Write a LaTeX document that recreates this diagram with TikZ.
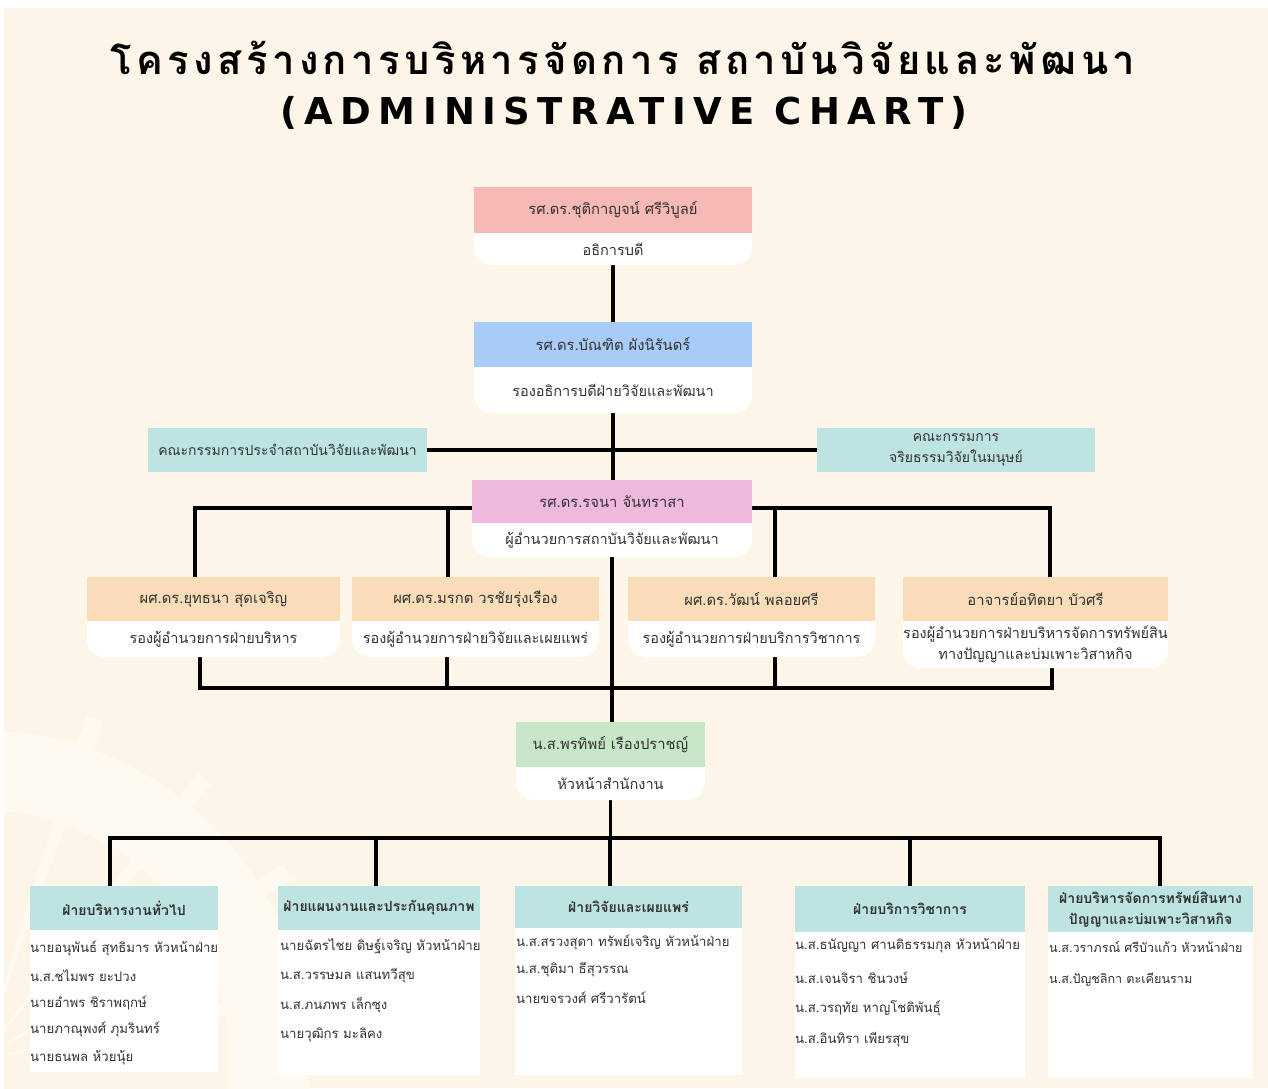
\documentclass[tikz,border=0pt]{standalone}
\usepackage{fontspec}
\setmainfont[Script=Thai]{Loma}
\newfontfamily\titlethai[Script=Thai,LetterSpace=11]{Loma}
\newfontfamily\titleen[LetterSpace=20]{DejaVu Sans}
\usetikzlibrary{calc,backgrounds}
\definecolor{bg}{HTML}{FDF5E7}
\definecolor{bglight}{HTML}{FEF9F1}
\definecolor{hpink}{HTML}{F7B9B5}
\definecolor{hblue}{HTML}{A8CBF8}
\definecolor{hviolet}{HTML}{EEB9DD}
\definecolor{hpeach}{HTML}{F8DDB8}
\definecolor{hgreen}{HTML}{C8E6C8}
\definecolor{hcyan}{HTML}{BEE3E3}
\definecolor{txt}{HTML}{333333}
\tikzset{
  conn/.style={line width=3.3pt, black},
  bodybox/.style={fill=white, draw=none, rounded corners=18pt, inner sep=0pt, outer sep=0pt},
  colbody/.style={fill=white, draw=none, inner sep=0pt, outer sep=0pt},
  headbox/.style={draw=none, inner sep=0pt, outer sep=0pt, text=txt, font=\fontsize{14.8}{18}\selectfont},
  roletxt/.style={inner sep=0pt, text=txt, align=center, font=\fontsize{14.5}{21}\selectfont},
  combox/.style={fill=hcyan, draw=none, inner sep=0pt, outer sep=0pt, text=txt, align=center, font=\fontsize{14}{21}\selectfont},
  colhead/.style={fill=hcyan, draw=none, inner sep=0pt, outer sep=0pt, text=txt, align=center, font=\bfseries\fontsize{14}{21}\selectfont},
  listtxt/.style={anchor=west, inner sep=0pt, text=txt, font=\fontsize{13.2}{18}\selectfont}
}
% #1 name, #2 xl, #3 xr, #4 ytop, #5 ysplit, #6 ybottom, #7 colour, #8 name text, #9 role text
\newcommand\card[9]{%
  \node[bodybox, minimum width={(#3-#2)*1pt}, minimum height={(#6-#4)*1pt}] (#1b) at ({(#2+#3)/2},{(#4+#6)/2}) {};
  \node[headbox, fill=#7, minimum width={(#3-#2)*1pt}, minimum height={(#5-#4)*1pt}] (#1) at ({(#2+#3)/2},{(#4+#5)/2}) {#8};
  \node[roletxt] (#1r) at ({(#2+#3)/2},{(#5+#6)/2}) {#9};}
% #1 name, #2 xl, #3 xr, #4 ytop, #5 ysplit, #6 ybottom, #7 header text
\newcommand\colcard[7]{%
  \node[colbody, minimum width={(#3-#2)*1pt}, minimum height={(#6-#4)*1pt}] (#1b) at ({(#2+#3)/2},{(#4+#6)/2}) {};
  \node[colhead, minimum width={(#3-#2)*1pt}, minimum height={(#5-#4)*1pt}] (#1) at ({(#2+#3)/2},{(#4+#5)/2}) {#7};}
\begin{document}
\begin{tikzpicture}[x=1pt,y=-1pt]
\useasboundingbox (0,0) rectangle (1268,1088);
\begin{scope}[on background layer]
  \fill[white] (0,0) rectangle (1268,1088);
  \fill[bg] (4,8) rectangle (1268,1088);
  \begin{scope}
    \clip (4,8) rectangle (1268,1088);
    \fill[bglight] (-20,1060) circle (330pt);
    \fill[bg] (-20,1060) circle (250pt);
    \foreach \a in {10,30,50,70} {
      \fill[bglight] (-20,1060) -- ++(\a:360pt) -- ++(\a+90:18pt) -- cycle;
    }
  \end{scope}
\end{scope}

% title
\node[font=\titlethai\bfseries\fontsize{40}{48}\selectfont] (title1) at (623,58) {โครงสร้างการบริหารจัดการ สถาบันวิจัยและพัฒนา};
\node[font=\titleen\bfseries\fontsize{37}{44}\selectfont] (title2) at (624,113) {(ADMINISTRATIVE CHART)};

% top cards
\card{pres}{474}{752}{187}{233}{265}{hpink}{รศ.ดร.ชุติกาญจน์ ศรีวิบูลย์}{อธิการบดี}
\card{vp}{474}{752}{322}{367}{413}{hblue}{รศ.ดร.บัณฑิต ผังนิรันดร์}{รองอธิการบดีฝ่ายวิจัยและพัฒนา}
\card{dir}{472}{752}{480}{523}{557}{hviolet}{รศ.ดร.รจนา จันทราสา}{ผู้อำนวยการสถาบันวิจัยและพัฒนา}

% committees
\node[combox, minimum width=279pt, minimum height=44pt] (comL) at (287.5,450) {คณะกรรมการประจำสถาบันวิจัยและพัฒนา};
\node[combox, minimum width=278pt, minimum height=44pt] (comR) at (956,450) {คณะกรรมการ\\จริยธรรมวิจัยในมนุษย์};

% deputies
\card{da}{87}{340}{577}{621}{657}{hpeach}{ผศ.ดร.ยุทธนา สุดเจริญ}{รองผู้อำนวยการฝ่ายบริหาร}
\card{db}{352}{599}{577}{621}{657}{hpeach}{ผศ.ดร.มรกต วรชัยรุ่งเรือง}{รองผู้อำนวยการฝ่ายวิจัยและเผยแพร่}
\card{dc}{628}{875}{577}{621}{657}{hpeach}{ผศ.ดร.วัฒน์ พลอยศรี}{รองผู้อำนวยการฝ่ายบริการวิชาการ}
\card{dd}{903}{1168}{577}{621}{668}{hpeach}{อาจารย์อทิตยา บัวศรี}{รองผู้อำนวยการฝ่ายบริหารจัดการทรัพย์สิน\\ทางปัญญาและบ่มเพาะวิสาหกิจ}

% office head
\card{off}{516}{705}{722}{767}{800}{hgreen}{น.ส.พรทิพย์ เรืองปราชญ์}{หัวหน้าสำนักงาน}

% divisions
\colcard{ka}{30}{218}{886}{930}{1072}{ฝ่ายบริหารงานทั่วไป}
\colcard{kb}{278}{480}{886}{930}{1075}{ฝ่ายแผนงานและประกันคุณภาพ}
\colcard{kc}{515}{742}{886}{928}{1075}{ฝ่ายวิจัยและเผยแพร่}
\colcard{kd}{795}{1025}{886}{932}{1078}{ฝ่ายบริการวิชาการ}
\colcard{ke}{1048}{1253}{886}{932}{1078}{ฝ่ายบริหารจัดการทรัพย์สินทาง\\ปัญญาและบ่มเพาะวิสาหกิจ}

\foreach \t [count=\i] in {นายอนุพันธ์ สุทธิมาร หัวหน้าฝ่าย, น.ส.ชไมพร ยะปวง, นายอำพร ชิราพฤกษ์, นายภาณุพงศ์ ภุมรินทร์, นายธนพล ห้วยนุ้ย}
  \node[listtxt] (la\i) at (30,{948+27.3*(\i-1)}) {\t};
\foreach \t [count=\i] in {นายฉัตรไชย ดิษฐ์เจริญ หัวหน้าฝ่าย, น.ส.วรรษมล แสนทวีสุข, น.ส.ภนภพร เล็กซุง, นายวุฒิกร มะลิคง}
  \node[listtxt] (lb\i) at (280,{946+29.5*(\i-1)}) {\t};
\foreach \t [count=\i] in {น.ส.สรวงสุดา ทรัพย์เจริญ หัวหน้าฝ่าย, น.ส.ชุติมา ธีสุวรรณ, นายขจรวงศ์ ศรีวารัตน์}
  \node[listtxt] (lc\i) at (516,{942+28*(\i-1)}) {\t};
\foreach \t [count=\i] in {น.ส.ธนัญญา ศานติธรรมกุล หัวหน้าฝ่าย, น.ส.เจนจิรา ชินวงษ์, น.ส.วรฤทัย หาญโชติพันธุ์, น.ส.อินทิรา เพียรสุข}
  \node[listtxt] (ld\i) at (795,{946+31.3*(\i-1)}) {\t};
\foreach \t [count=\i] in {น.ส.วราภรณ์ ศรีบัวแก้ว หัวหน้าฝ่าย, น.ส.ปัญชลิกา ตะเคียนราม}
  \node[listtxt, font=\fontsize{12.6}{18}\selectfont] (le\i) at (1049,{947+33*(\i-1)}) {\t};

% connectors
\begin{scope}[on background layer]
  \draw[conn] (presb.south) -- (vp.north);
  \draw[conn] (vpb.south) -- (vpb.south |- dir.north);
  \draw[conn] (comL.east) -- (comR.west);
  \draw[conn] ([xshift=-18.5pt]da.north) -- ++(0,-69) -| ([xshift=14.5pt]dd.north);
  \draw[conn] ([xshift=-27.5pt]db.north) -- ++(0,-69);
  \draw[conn] ([xshift=23.5pt]dc.north) -- ++(0,-69);
  \draw[conn] ([xshift=-13.5pt]dab.south) -- ++(0,31) -| ([xshift=16.5pt]ddb.south);
  \draw[conn] ([xshift=-28.5pt]dbb.south) -- ++(0,31);
  \draw[conn] ([xshift=23.5pt]dcb.south) -- ++(0,31);
  \draw[conn] (dirb.south) -- (dirb.south |- off.north);
  \draw[conn] (offb.south) -- ++(0,38);
  \draw[conn] ([xshift=-14pt]ka.north) -- ++(0,-48) -| ([xshift=9.5pt]ke.north);
  \draw[conn] ([xshift=-3pt]kb.north) -- ++(0,-48);
  \draw[conn] ([xshift=-18.5pt]kc.north) -- ++(0,-48);
  \draw[conn] (kd.north) -- ++(0,-48);
\end{scope}
\end{tikzpicture}
\end{document}
